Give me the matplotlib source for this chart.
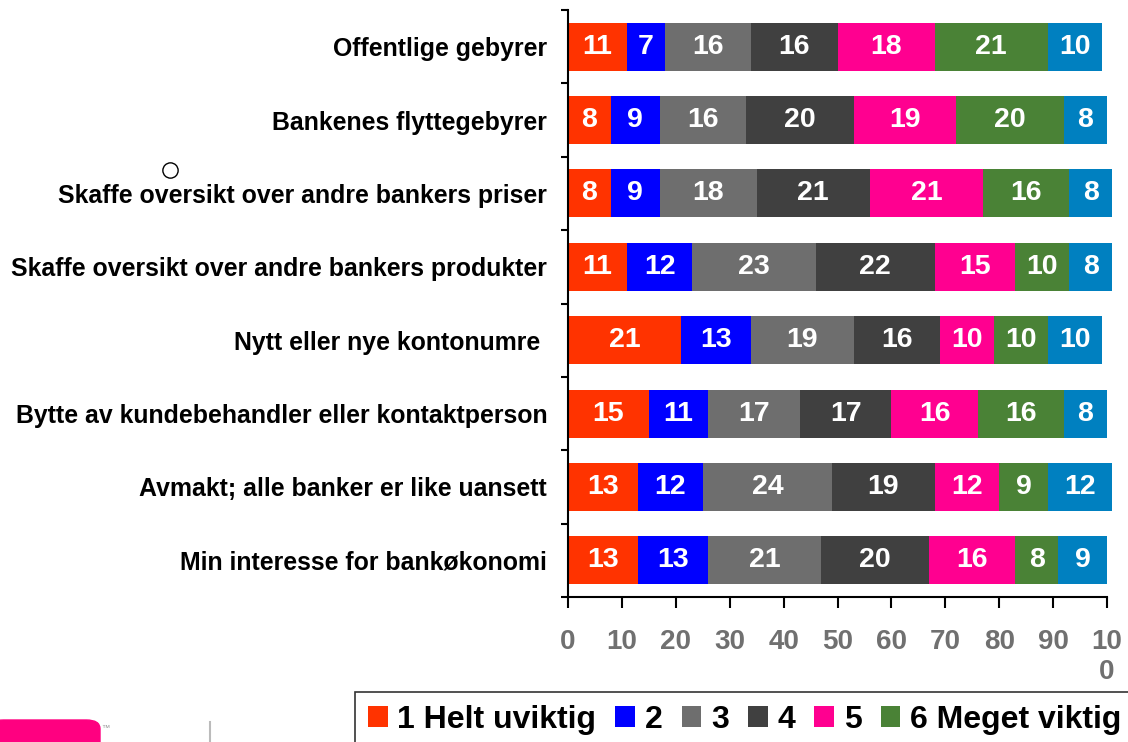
import numpy as np
import matplotlib.pyplot as plt
from matplotlib.patches import Patch, FancyBboxPatch
from matplotlib.lines import Line2D

plt.rcParams['font.family'] = ['Liberation Sans', 'DejaVu Sans']

categories = [
    'Offentlige gebyrer',
    'Bankenes flyttegebyrer',
    'Skaffe oversikt over andre bankers priser',
    'Skaffe oversikt over andre bankers produkter',
    'Nytt eller nye kontonumre ',
    'Bytte av kundebehandler eller kontaktperson',
    'Avmakt; alle banker er like uansett',
    'Min interesse for bankøkonomi',
]

series_names = ['1 Helt uviktig', '2', '3', '4', '5', '6 Meget viktig', 'Vet ikke']

values = [
    [11, 8, 8, 11, 21, 15, 13, 13],
    [7, 9, 9, 12, 13, 11, 12, 13],
    [16, 16, 18, 23, 19, 17, 24, 21],
    [16, 20, 21, 22, 16, 17, 19, 20],
    [18, 19, 21, 15, 10, 16, 12, 16],
    [21, 20, 16, 10, 10, 16, 9, 8],
    [10, 8, 8, 8, 10, 8, 12, 9],
]

colors = ['#FF3300', '#0000FF', '#6E6E6E', '#404040', '#FF0090', '#4A8236', '#0080C0']

W, H = 1128, 742
fig = plt.figure(figsize=(W / 100, H / 100), dpi=100)
ax = fig.add_axes([568 / W, 1 - 597 / H, (1107 - 568) / W, 587 / H])

y = np.arange(len(categories))
left = np.zeros(len(categories))
for vals, col in zip(values, colors):
    vals = np.array(vals, dtype=float)
    ax.barh(y, vals, left=left, height=0.655, color=col, clip_on=False)
    for yi, (l, v) in enumerate(zip(left, vals)):
        ax.text(l + v / 2, yi, f'{int(v)}', ha='center', va='center',
                color='white', fontsize=20.5, fontweight='bold', clip_on=False)
    left += vals

ax.set_xlim(0, 100)
ax.set_ylim(len(categories) - 0.5, -0.5)

ax.spines['top'].set_visible(False)
ax.spines['right'].set_visible(False)
ax.spines['left'].set_linewidth(1.5)
ax.spines['bottom'].set_linewidth(1.5)

ax.set_yticks(y)
ax.set_yticklabels(categories, fontsize=17.9, fontweight='bold')
ax.tick_params(axis='y', which='major', length=0, pad=15)
ax.set_yticks(np.arange(-0.5, len(categories)), minor=True)
ax.tick_params(axis='y', which='minor', length=5, width=1.5, direction='out')

xt = np.arange(0, 101, 10)
ax.set_xticks(xt)
ax.set_xticklabels([str(v) for v in xt[:-1]] + ['10\n0'], fontsize=20,
                   fontweight='bold', color='#707070')
ax.tick_params(axis='x', length=8, width=1.5, direction='out', pad=15)

handles = [Patch(facecolor=c, edgecolor='none') for c in colors[:6]]
leg = fig.legend(handles, series_names[:6], loc='upper left',
                 bbox_to_anchor=(355 / W, 1 - 692 / H), ncol=6,
                 prop={'weight': 'bold', 'size': 23}, frameon=True,
                 fancybox=False, edgecolor='black', borderaxespad=0,
                 handlelength=0.62, handleheight=0.66, handletextpad=0.3,
                 columnspacing=0.6, borderpad=0.4)
leg.get_frame().set_linewidth(1.2)

# logo fragment bottom left
fig.patches.append(FancyBboxPatch((-10 / W, -20 / H), 110 / W, 42 / H,
                                  boxstyle='round,pad=0,rounding_size=0.012',
                                  transform=fig.transFigure, color='#FF0080'))
fig.text(101 / W, 1 - 730 / H, '™', fontsize=6, color='#999999')
fig.add_artist(Line2D([210 / W, 210 / W], [0, 20 / H], color='#BBBBBB',
                      lw=1.5, transform=fig.transFigure))

fig.add_artist(Line2D([170 / W], [1 - 170 / H], marker='o', markersize=11,
                      mfc='none', mec='black', mew=1, transform=fig.transFigure))

fig.savefig('out.png', dpi=100)
